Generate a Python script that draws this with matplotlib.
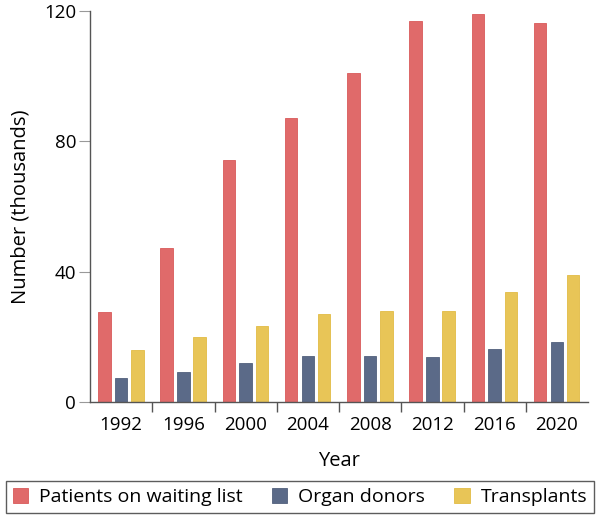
import matplotlib.pyplot as plt
import numpy as np

plt.rcParams['font.family'] = ['Open Sans', 'DejaVu Sans']

years = ['1992', '1996', '2000', '2004', '2008', '2012', '2016', '2020']
waiting = [27.7, 47.2, 74.1, 87.0, 100.8, 116.8, 119.1, 116.3]
donors = [7.2, 9.1, 11.9, 14.2, 14.2, 13.8, 16.2, 18.4]
transplants = [16.0, 19.8, 23.2, 27.1, 28.0, 28.0, 33.6, 39.0]

red = '#e06a6a'
blue = '#5b6a88'
yellow = '#e8c557'

fig = plt.figure(figsize=(6, 5.16), dpi=100)
ax = fig.add_axes([0.15, 0.221, 0.83, 0.758])

x = np.arange(len(years))
w = 0.2
ax.bar(x - 0.27, waiting, w, color=red, edgecolor='#d95a5a', linewidth=0.6,
       label='Patients on waiting list')
ax.bar(x, donors, w, color=blue, edgecolor='#52607c', linewidth=0.6,
       label='Organ donors')
ax.bar(x + 0.26, transplants, w, color=yellow, edgecolor='#e2bb45', linewidth=0.6,
       label='Transplants')

ax.set_xlim(-0.5, len(years) - 0.5)
ax.set_ylim(0, 120)
ax.set_yticks([0, 40, 80, 120])
ax.set_xticks(x)
ax.set_xticklabels(years)
ax.set_xticks(x[:-1] + 0.5, minor=True)

for s in ['top', 'right']:
    ax.spines[s].set_visible(False)
for s in ['left', 'bottom']:
    ax.spines[s].set_color('#555555')
    ax.spines[s].set_linewidth(1.0)

ax.tick_params(axis='y', length=8, width=0.8, color='#999999', labelsize=13.5, pad=2)
ax.tick_params(axis='x', which='major', length=0, labelsize=13.5, pad=10)
ax.tick_params(axis='x', which='minor', length=7, width=1.0, color='#555555')

ax.set_ylabel('Number (thousands)', fontsize=14.5, labelpad=10)
ax.set_xlabel('Year', fontsize=14.5, labelpad=12)

fig.legend(loc='lower center', bbox_to_anchor=(0.5, 0.006),
           ncol=3, fontsize=14, frameon=True, fancybox=False,
           edgecolor='#333333', handlelength=0.8, handleheight=0.8,
           handletextpad=0.55, columnspacing=1.5, borderaxespad=0,
           borderpad=0.35)

fig.savefig('out.png', dpi=100)
